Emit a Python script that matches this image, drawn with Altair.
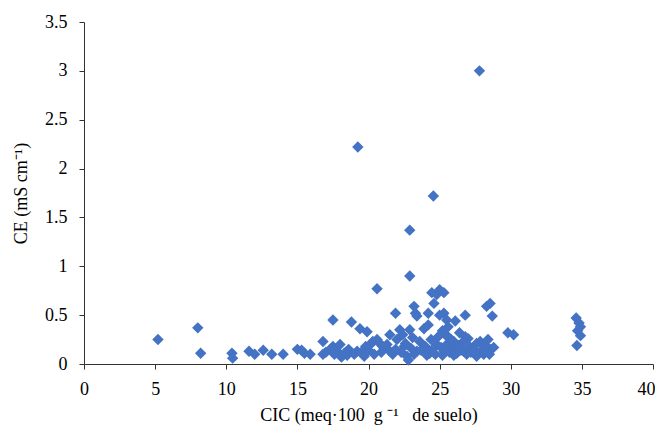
import altair as alt
import pandas as pd

cic = [5.2, 8.0, 8.2, 10.4, 10.45, 11.6, 12.0, 12.6, 13.2, 14.0, 15.0, 15.3, 15.5, 15.9,
       16.8, 16.8, 17.5, 17.5, 17.8, 18.1, 18.6, 18.8, 19.2, 19.25, 19.4, 19.9, 19.8, 20.2,
       20.6, 20.6, 20.3, 20.8, 21.3, 21.5, 21.5, 21.9, 22.0, 22.2, 22.5, 22.7, 22.8, 22.9,
       22.9, 22.9, 23.2, 23.3, 23.4, 23.4, 23.6, 23.9, 24.2, 24.2, 24.3, 24.45, 24.56, 24.6,
       24.8, 24.8, 25.0, 25.3, 25.0, 25.3, 25.5, 25.3, 25.6, 26.0, 26.2, 26.1, 26.4, 26.8,
       26.8, 26.2, 26.7, 27.1, 27.6, 27.6, 27.8, 27.85, 28.1, 28.3, 28.3, 28.4, 28.55, 28.6,
       28.7, 28.8, 29.8, 30.2, 34.6, 34.8, 34.9, 34.7, 34.9, 34.65,
       17.0, 17.3, 17.6, 18.0, 18.3, 18.5, 19.0, 19.5, 19.7, 20.0, 20.4, 20.9, 21.1, 21.7,
       21.9, 22.3, 22.6, 23.0, 23.2, 23.7, 24.0, 24.1, 24.5, 24.7, 25.1, 25.2, 25.5, 25.7,
       25.8, 25.9, 26.0, 26.3, 26.5, 26.9, 27.2, 27.4, 27.9, 28.0, 28.2, 28.5, 25.4, 25.6,
       25.2, 24.9, 24.4, 23.1, 22.4, 27.0, 26.6, 21.0]

ce = [0.25, 0.37, 0.11, 0.11, 0.06, 0.13, 0.10, 0.14, 0.10, 0.10, 0.15, 0.14, 0.11, 0.10,
      0.23, 0.10, 0.45, 0.18, 0.13, 0.07, 0.15, 0.43, 0.13, 2.22, 0.36, 0.33, 0.18, 0.21,
      0.25, 0.77, 0.23, 0.21, 0.20, 0.30, 0.13, 0.52, 0.25, 0.35, 0.18, 0.08, 0.04, 1.37,
      0.90, 0.35, 0.59, 0.52, 0.49, 0.13, 0.23, 0.36, 0.40, 0.52, 0.11, 0.73, 1.72, 0.62,
      0.71, 0.20, 0.76, 0.73, 0.50, 0.52, 0.45, 0.13, 0.38, 0.23, 0.15, 0.44, 0.32, 0.50,
      0.28, 0.11, 0.13, 0.18, 0.21, 0.08, 3.00, 0.23, 0.10, 0.18, 0.59, 0.25, 0.62, 0.15,
      0.49, 0.17, 0.32, 0.30, 0.47, 0.42, 0.38, 0.34, 0.29, 0.19,
      0.12, 0.15, 0.10, 0.20, 0.11, 0.09, 0.10, 0.12, 0.08, 0.14, 0.10, 0.12, 0.16, 0.10,
      0.15, 0.12, 0.21, 0.16, 0.10, 0.14, 0.18, 0.09, 0.15, 0.10, 0.17, 0.09, 0.20, 0.12,
      0.25, 0.16, 0.09, 0.19, 0.14, 0.10, 0.12, 0.15, 0.13, 0.19, 0.12, 0.10, 0.30, 0.28,
      0.34, 0.28, 0.25, 0.27, 0.30, 0.26, 0.22, 0.18]

x_ticks = [0, 5, 10, 15, 20, 25, 30, 35, 40]
y_ticks = [0, 0.5, 1, 1.5, 2, 2.5, 3, 3.5]

df = pd.DataFrame({"CIC": cic, "CE": ce})

FONT = "Liberation Serif"
NB = "\u00a0"
x_title = f"CIC (meq·100{NB}{NB}g{NB}⁻¹{NB}{NB}{NB}de suelo)"

chart = alt.Chart(df).mark_point(
    shape="diamond", filled=True, size=130, color="#4472C4", opacity=1
).encode(
    x=alt.X("CIC:Q",
            scale=alt.Scale(domain=[0, 40], nice=False, zero=True),
            axis=alt.Axis(values=x_ticks, title=x_title, labelFlush=False,
                          labelAlign=alt.condition("datum.value == 40",
                                                   alt.value("right"), alt.value("center")),
                          labelOffset=alt.condition("datum.value == 40",
                                                    alt.value(2), alt.value(0)),
                          grid=False, tickSize=5, labelPadding=11, titlePadding=8,
                          format="~g")),
    y=alt.Y("CE:Q",
            scale=alt.Scale(domain=[0, 3.5], nice=False),
            axis=alt.Axis(values=y_ticks, title="CE (mS cm⁻¹)", grid=False, labelFlush=False,
                          tickSize=5, labelPadding=12, titlePadding=14, format="~g")),
).properties(
    width=569, height=342,
    autosize=alt.AutoSizeParams(type="none"),
    padding={"left": 76, "top": 14, "right": 2, "bottom": 62},
).configure_view(stroke=None).configure_axis(
    domainColor="#333333", tickColor="#333333", labelColor="#000000",
    titleColor="#000000", labelFont=FONT, titleFont=FONT, labelFontSize=18,
    titleFontSize=18, titleFontWeight="normal", domainWidth=1, tickWidth=1,
)

chart.save("out.html", embed_options={"renderer": "svg", "actions": False})
